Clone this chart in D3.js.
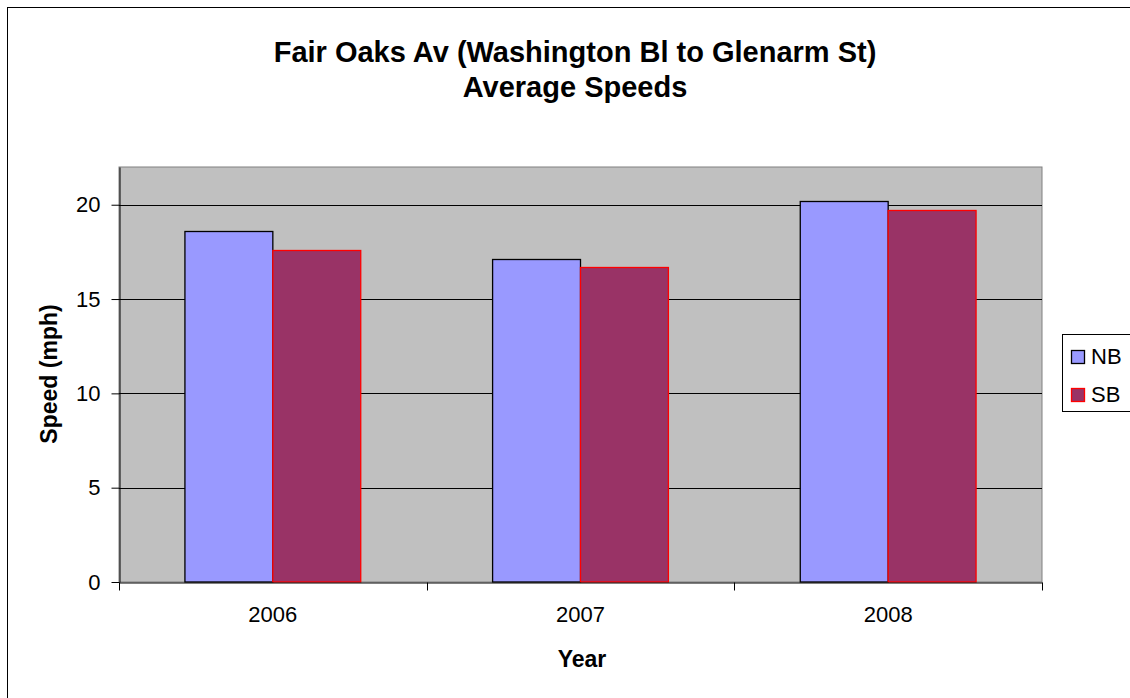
<!DOCTYPE html>
<html>
<head>
<meta charset="utf-8">
<script src="https://cdn.jsdelivr.net/npm/d3@7/dist/d3.min.js"></script>
<style>
  html, body { margin: 0; padding: 0; background: #fff; }
  svg { display: block; font-family: "Liberation Sans", Arial, sans-serif; }
</style>
</head>
<body>
<svg id="chart" width="1130" height="698"></svg>
<script>
const categories = ["2006", "2007", "2008"];
const seriesNames = ["NB", "SB"];
const nbValues = [18.6, 17.1, 20.2];
const sbValues = [17.6, 16.7, 19.7];
const yTicks = [0, 5, 10, 15, 20];
const titleLines = ["Fair Oaks Av (Washington Bl to Glenarm St)", "Average Speeds"];

const fills = { NB: "#9999FF", SB: "#993366" };
const strokes = { NB: "#000000", SB: "#FF0000" };

const svg = d3.select("#chart");
const W = 1130, H = 698;

// outer chart border
svg.append("rect").attr("x", 7.5).attr("y", 7.5).attr("width", W).attr("height", H)
  .attr("fill", "#fff").attr("stroke", "#000").attr("stroke-width", 1);

const plot = { left: 119, top: 167, right: 1042, bottom: 582 };

const x0 = d3.scaleBand().domain(categories).range([plot.left, plot.right]).paddingInner(0).paddingOuter(0);
const gap = 1.5;
const y = d3.scaleLinear().domain([0, 22]).range([plot.bottom, plot.top]);

// plot area
svg.append("rect").attr("x", plot.left).attr("y", plot.top)
  .attr("width", plot.right - plot.left).attr("height", plot.bottom - plot.top)
  .attr("fill", "#C0C0C0").attr("stroke", "#808080").attr("stroke-width", 1);

// gridlines
svg.append("g").selectAll("line").data(yTicks.filter(d => d > 0)).join("line")
  .attr("x1", plot.left).attr("x2", plot.right)
  .attr("y1", d => Math.round(y(d)) + 0.5).attr("y2", d => Math.round(y(d)) + 0.5)
  .attr("stroke", "#000").attr("stroke-width", 1);

// bars
const data = categories.map((c, i) => ({ cat: c, NB: nbValues[i], SB: sbValues[i] }));
const groups = svg.append("g").selectAll("g").data(data).join("g");
groups.each(function(d) {
  const bw = x0.bandwidth() / (seriesNames.length + gap);
  const x1 = d3.scaleBand().domain(seriesNames)
    .range([x0(d.cat) + bw * gap / 2, x0(d.cat) + x0.bandwidth() - bw * gap / 2]);
  d3.select(this).selectAll("rect").data(seriesNames.map(s => ({ s, v: d[s] }))).join("rect")
    .attr("x", e => x1(e.s))
    .attr("y", e => Math.round(y(e.v)) + 0.5)
    .attr("width", x1.bandwidth())
    .attr("height", e => y(0) - Math.round(y(e.v)) - 0.5)
    .attr("fill", e => fills[e.s])
    .attr("stroke", e => strokes[e.s])
    .attr("stroke-width", 1.3);
});

const font = "'Liberation Sans', Arial, sans-serif";

// y axis
const yAxis = d3.axisLeft(y).tickValues(yTicks).tickSize(8).tickSizeOuter(0).tickPadding(11);
const gy = svg.append("g").attr("transform", `translate(${plot.left + 0.5},0)`).call(yAxis);
gy.select(".domain").attr("stroke", "#000");
gy.selectAll(".tick line").attr("stroke", "#000");
gy.selectAll("text").attr("font-size", 22).attr("fill", "#000").attr("font-family", font);

// x axis
const xAxis = d3.axisBottom(x0).tickSize(0).tickSizeOuter(0).tickPadding(24);
const gx = svg.append("g").attr("transform", `translate(0,${plot.bottom + 0.5})`).call(xAxis);
gx.select(".domain").attr("stroke", "#000");
gx.selectAll("text").attr("font-size", 22).attr("fill", "#000").attr("font-family", font);
// category separator ticks
const bounds = categories.map(c => x0(c)).concat([x0(categories[categories.length - 1]) + x0.bandwidth()]);
gx.selectAll(".sep").data(bounds).join("line").attr("class", "sep")
  .attr("x1", d => Math.round(d) + 0.5).attr("x2", d => Math.round(d) + 0.5)
  .attr("y1", 0).attr("y2", 8).attr("stroke", "#000");

// title
svg.append("text").attr("text-anchor", "middle")
  .attr("font-size", 29).attr("font-weight", "bold")
  .selectAll("tspan").data(titleLines).join("tspan")
  .attr("x", 575).attr("y", (d, i) => 62 + i * 35).text(d => d);

// axis titles
svg.append("text").attr("x", 582).attr("y", 667).attr("text-anchor", "middle")
  .attr("font-size", 23).attr("font-weight", "bold").text("Year");
svg.append("text").attr("transform", "translate(57,374) rotate(-90)").attr("text-anchor", "middle")
  .attr("font-size", 23).attr("font-weight", "bold").text("Speed (mph)");

// legend
const lg = svg.append("g");
lg.append("rect").attr("x", 1062.5).attr("y", 334.5).attr("width", 100).attr("height", 77)
  .attr("fill", "#fff").attr("stroke", "#000");
const items = lg.selectAll("g.item").data(seriesNames).join("g").attr("class", "item")
  .attr("transform", (d, i) => `translate(1071,${350 + i * 38})`);
items.append("rect").attr("x", 0.5).attr("y", 0.5).attr("width", 13).attr("height", 13)
  .attr("fill", d => fills[d]).attr("stroke", d => strokes[d]).attr("stroke-width", 1.3);
items.append("text").attr("x", 20).attr("y", 14).attr("font-size", 22).text(d => d);
</script>
</body>
</html>
